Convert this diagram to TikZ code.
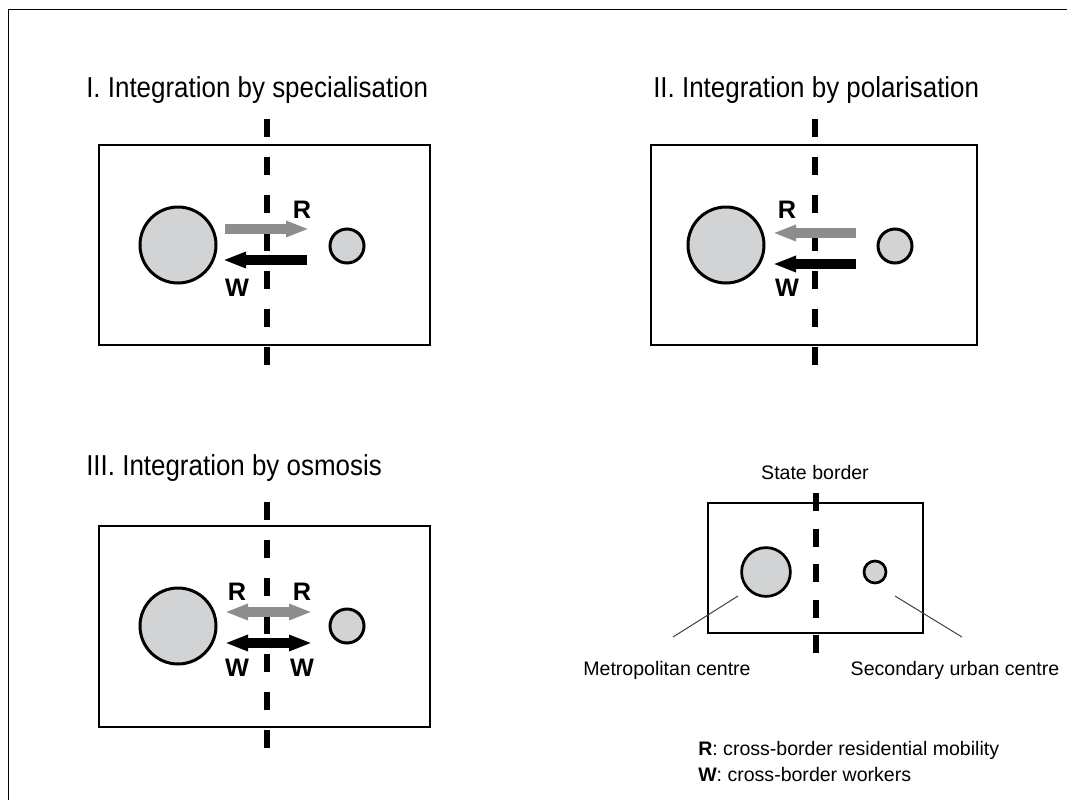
\documentclass[tikz,border=0pt]{standalone}
\usepackage{fontspec}
\setmainfont{Liberation Sans}
\newfontfamily\narrowfont{Liberation Sans}[FakeStretch=0.9]
\usetikzlibrary{arrows.meta}
\definecolor{cityfill}{RGB}{209,211,212}
\definecolor{flowgray}{RGB}{140,141,143}
\tikzset{
  city/.style={circle,draw,line width=0.75mm,fill=cityfill,inner sep=0pt},
  bigcity/.style={city,minimum size=19mm},
  smallcity/.style={city,minimum size=8.5mm},
  region/.style={draw,line width=0.375mm},
  border/.style={line width=1.5mm,dash pattern=on 4.5mm off 5mm},
  flow/.style={line width=2.4mm},
  title/.style={anchor=base west,inner sep=0pt,font=\narrowfont\fontsize{20.5}{24}\selectfont},
  flowlabel/.style={inner sep=0pt,font=\bfseries\fontsize{18}{21}\selectfont},
  legend/.style={inner sep=0pt,font=\fontsize{13.9}{16}\selectfont}
}
\begin{document}
\begin{tikzpicture}[x=0.25mm,y=-0.25mm,>={Triangle[length=5.75mm,width=3.75mm]}]
\useasboundingbox (0,0) rectangle (1067,800);
\draw[line width=0.375mm] (1067,9.5) -- (8.5,9.5) -- (8.5,800);

% I. specialisation
\node[title] (t1) at (86,97) {I. Integration by specialisation};
\draw[region] (99,145) rectangle (430,345);
\node[bigcity] (m1) at (178,245) {};
\node[smallcity] (s1) at (347,246) {};
\coordinate (b1a) at (267,119);
\coordinate (b1b) at (267,365);
\draw[border] (b1a) -- (b1b);
\coordinate (r1a) at (225,229);
\coordinate (r1b) at (309,229);
\coordinate (w1a) at (307,260);
\coordinate (w1b) at (223,260);
\draw[flow,flowgray,->] (r1a) -- (r1b);
\draw[flow,->] (w1a) -- (w1b);
\node[flowlabel] (lr1) at (302,210) {R};
\node[flowlabel] (lw1) at (237,288) {W};

% II. polarisation
\node[title] (t2) at (653,97) {II. Integration by polarisation};
\draw[region] (651,145) rectangle (977,345);
\node[bigcity] (m2) at (726,245) {};
\node[smallcity] (s2) at (895,246) {};
\coordinate (b2a) at (815,119);
\coordinate (b2b) at (815,365);
\draw[border] (b2a) -- (b2b);
\coordinate (r2a) at (856,233);
\coordinate (r2b) at (773,233);
\coordinate (w2a) at (856,264);
\coordinate (w2b) at (773,264);
\draw[flow,flowgray,->] (r2a) -- (r2b);
\draw[flow,->] (w2a) -- (w2b);
\node[flowlabel] (lr2) at (787,210) {R};
\node[flowlabel] (lw2) at (787,288) {W};

% III. osmosis
\node[title] (t3) at (86,475) {III. Integration by osmosis};
\draw[region] (99,526) rectangle (430,727);
\node[bigcity] (m3) at (178,626) {};
\node[smallcity] (s3) at (347,626) {};
\coordinate (b3a) at (267,502);
\coordinate (b3b) at (267,748);
\draw[border] (b3a) -- (b3b);
\coordinate (r3a) at (225,612);
\coordinate (r3b) at (312,612);
\coordinate (w3a) at (225,643);
\coordinate (w3b) at (312,643);
\draw[flow,flowgray,<->] (r3a) -- (r3b);
\draw[flow,<->] (w3a) -- (w3b);
\node[flowlabel] (lr3a) at (237,592) {R};
\node[flowlabel] (lr3b) at (302,592) {R};
\node[flowlabel] (lw3a) at (237,668) {W};
\node[flowlabel] (lw3b) at (302,668) {W};

% legend
\node[legend,anchor=base] (sb) at (815,479) {State border};
\draw[region] (708,503) rectangle (923,633);
\node[city,minimum size=12.2mm,line width=0.68mm] (ml) at (766,572) {};
\node[city,minimum size=5.5mm,line width=0.68mm] (sl) at (875,572) {};
\coordinate (bla) at (816,493);
\coordinate (blb) at (816,653);
\draw[border,dash pattern=on 4.5mm off 4.4mm] (bla) -- (blb);
\node[legend,anchor=base] (lm) at (667,675) {Metropolitan centre};
\node[legend,anchor=base] (ls) at (955,675) {Secondary urban centre};
\coordinate (pm) at (738,596);
\coordinate (qm) at (673,637);
\coordinate (ps) at (895,596);
\coordinate (qs) at (962,637);
\draw[line width=0.25mm,black!75] (pm) -- (qm);
\draw[line width=0.25mm,black!75] (ps) -- (qs);
\node[legend,anchor=base west] (kr) at (698,755) {\textbf{R}: cross-border residential mobility};
\node[legend,anchor=base west] (kw) at (698,781) {\textbf{W}: cross-border workers};
\end{tikzpicture}
\end{document}
